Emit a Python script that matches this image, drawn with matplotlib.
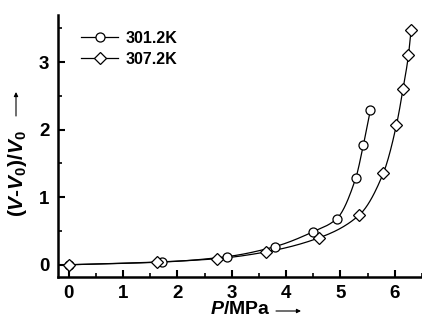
import numpy as np
import matplotlib
matplotlib.use("Agg")
import matplotlib.pyplot as plt
from matplotlib.ticker import MultipleLocator

plt.rcParams['font.family'] = ['Liberation Sans', 'DejaVu Sans']
plt.rcParams['mathtext.fontset'] = 'custom'
plt.rcParams['mathtext.rm'] = 'Liberation Sans:bold'
plt.rcParams['mathtext.bf'] = 'Liberation Sans:bold'
plt.rcParams['mathtext.it'] = 'Liberation Sans:bold:italic'
plt.rcParams['mathtext.bfit'] = 'Liberation Sans:bold:italic'

# Data
p_301 = [0.0, 1.72, 2.91, 3.80, 4.50, 4.93, 5.28, 5.42, 5.55]
v_301 = [0.0, 0.04, 0.12, 0.27, 0.49, 0.68, 1.28, 1.77, 2.29]
p_307 = [0.0, 1.62, 2.73, 3.63, 4.61, 5.35, 5.79, 6.03, 6.15, 6.25, 6.30]
v_307 = [0.0, 0.04, 0.09, 0.19, 0.40, 0.74, 1.36, 2.07, 2.60, 3.10, 3.48]
labels = ["301.2K", "307.2K"]


def pchip(x, y, xn):
    x = np.asarray(x, float); y = np.asarray(y, float)
    h = np.diff(x); d = np.diff(y) / h
    n = len(x); m = np.zeros(n)
    for k in range(1, n - 1):
        if d[k - 1] * d[k] > 0:
            w1 = 2 * h[k] + h[k - 1]; w2 = h[k] + 2 * h[k - 1]
            m[k] = (w1 + w2) / (w1 / d[k - 1] + w2 / d[k])
    m[0] = d[0]; m[-1] = d[-1]
    out = np.empty_like(xn)
    for i, xv in enumerate(xn):
        k = min(max(np.searchsorted(x, xv) - 1, 0), n - 2)
        t = (xv - x[k]) / h[k]
        h00 = 2 * t**3 - 3 * t**2 + 1; h10 = t**3 - 2 * t**2 + t
        h01 = -2 * t**3 + 3 * t**2; h11 = t**3 - t**2
        out[i] = h00 * y[k] + h10 * h[k] * m[k] + h01 * y[k + 1] + h11 * h[k] * m[k + 1]
    return out


W, H = 422, 325
fig = plt.figure(figsize=(W / 100, H / 100), dpi=100)
ax = fig.add_axes([0.137, 0.148, 0.863, 0.806])

for px, vy, mk, lab in [(p_301, v_301, 'o', labels[0]), (p_307, v_307, 'D', labels[1])]:
    ms = 6.5 if mk == 'o' else 5.8
    xs = np.linspace(px[0], px[-1], 300)
    ax.plot(xs, pchip(px, vy, xs), color='black', lw=0.9, zorder=2)
    ax.plot(px, vy, linestyle='none', marker=mk, mfc='white', mec='black',
            ms=ms, mew=0.9, zorder=3)
    ax.plot([], [], color='black', lw=0.9, marker=mk, mfc='white', mec='black',
            ms=ms, mew=0.9, label=lab)

ax.set_xlim(-0.2, 6.5)
ax.set_ylim(-0.18, 3.7)
ax.xaxis.set_major_locator(MultipleLocator(1))
ax.xaxis.set_minor_locator(MultipleLocator(0.5))
ax.yaxis.set_major_locator(MultipleLocator(1))
ax.yaxis.set_minor_locator(MultipleLocator(0.5))
ax.tick_params(which='major', direction='in', length=5, width=1.5, labelsize=13.5, pad=6)
ax.tick_params(which='minor', direction='in', length=3, width=1.2)
for lab in ax.get_xticklabels() + ax.get_yticklabels():
    lab.set_fontweight('bold')
for s in ['top', 'right']:
    ax.spines[s].set_visible(False)
for s in ['left', 'bottom']:
    ax.spines[s].set_linewidth(1.8)

# x label with arrow
fig.text(240 / W, 1 - 309 / H, r"$\mathit{P}$/MPa", fontsize=14, fontweight='bold',
         ha='center', va='center')
ax.annotate("", xy=(301 / W, 1 - 311 / H), xytext=(276 / W, 1 - 311 / H),
            xycoords='figure fraction', textcoords='figure fraction',
            arrowprops=dict(arrowstyle='-|>', lw=0.8, color='black',
                            mutation_scale=6, shrinkA=0, shrinkB=0),
            annotation_clip=False)

# y label with arrow
fig.text(17.5 / W, 1 - 174 / H, r"($\mathit{V}$-$\mathit{V}_{0}$)/$\mathit{V}_{0}$",
         fontsize=15, fontweight='bold', rotation=90, ha='center', va='center')
ax.annotate("", xy=(16 / W, 1 - 92 / H), xytext=(16 / W, 1 - 116 / H),
            xycoords='figure fraction', textcoords='figure fraction',
            arrowprops=dict(arrowstyle='-|>', lw=0.8, color='black',
                            mutation_scale=6, shrinkA=0, shrinkB=0),
            annotation_clip=False)

leg = ax.legend(loc='upper left', bbox_to_anchor=(0.025, 0.995), frameon=False,
                handlelength=2.3, handletextpad=0.45, labelspacing=0.4,
                prop={'weight': 'bold', 'size': 11.5})

fig.savefig("out.png", dpi=100)
